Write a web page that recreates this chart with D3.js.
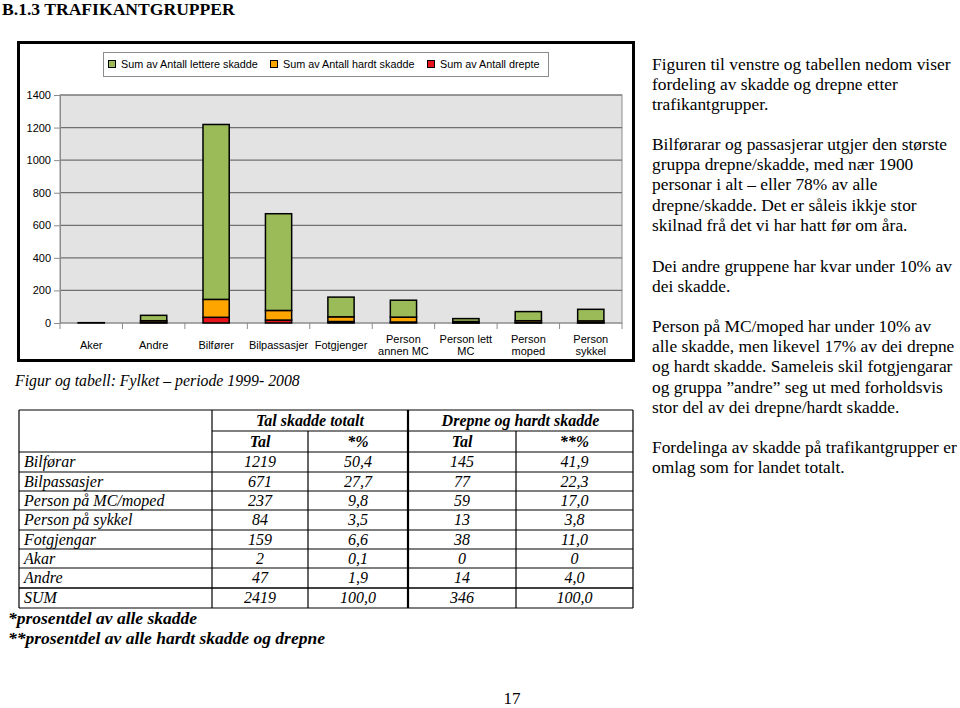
<!DOCTYPE html>
<html><head><meta charset="utf-8">
<script src="https://cdn.jsdelivr.net/npm/d3@7"></script>
<style>body{margin:0;background:#fff}svg{display:block}</style>
</head><body>
<svg id="c" width="960" height="708"></svg>
<script>
// ---- data ----
const categories = ["Aker","Andre","Bilfører","Bilpassasjer","Fotgjenger","Person annen MC","Person lett MC","Person moped","Person sykkel"];
const lettereSkadde = [2, 33, 1074, 594, 121, 104, 18, 56, 71];
const hardtSkadde   = [0, 11, 110, 59, 29, 30, 8, 12, 11];
const drepte        = [0, 3, 35, 18, 9, 6, 1, 2, 2];
const seriesNames = ["Sum av Antall lettere skadde","Sum av Antall hardt skadde","Sum av Antall drepte"];
const yTicks = [0,200,400,600,800,1000,1200,1400];

const tableLabels = ["Bilførar","Bilpassasjer","Person på MC/moped","Person på sykkel","Fotgjengar","Akar","Andre","SUM"];
const talTotalt   = ["1219","671","237","84","159","2","47","2419"];
const pctTotalt   = ["50,4","27,7","9,8","3,5","6,6","0,1","1,9","100,0"];
const talHardt    = ["145","77","59","13","38","0","14","346"];
const pctHardt    = ["41,9","22,3","17,0","3,8","11,0","0","4,0","100,0"];

const paragraphs = [
 ["Figuren til venstre og tabellen nedom viser","fordeling av skadde og drepne etter","trafikantgrupper."],
 ["Bilførarar og passasjerar utgjer den største","gruppa drepne/skadde, med nær 1900","personar i alt – eller 78% av alle","drepne/skadde. Det er såleis ikkje stor","skilnad frå det vi har hatt før om åra."],
 ["Dei andre gruppene har kvar under 10% av","dei skadde."],
 ["Person på MC/moped har under 10% av","alle skadde, men likevel 17% av dei drepne","og hardt skadde. Sameleis skil fotgjengarar","og gruppa ”andre” seg ut med forholdsvis","stor del av dei drepne/hardt skadde."],
 ["Fordelinga av skadde på trafikantgrupper er","omlag som for landet totalt."]
];

const svg = d3.select("#c");
const serif = "'Liberation Serif','Times New Roman',serif";
const sans = "'Liberation Sans',Arial,sans-serif";
const colors = ["#9BBB59","#FFA500","#E8141B"];

// title
svg.append("text").attr("x",2).attr("y",15).attr("font-family",serif).attr("font-weight","bold")
  .attr("font-size",17.6).text("B.1.3 TRAFIKANTGRUPPER");

// chart frame
svg.append("rect").attr("x",18.5).attr("y",42.5).attr("width",615).attr("height",318)
  .attr("fill","#fff").attr("stroke","#000").attr("stroke-width",3);

const x = d3.scaleBand().domain(categories).range([60,622]).paddingInner(0.58).paddingOuter(0.29);
const y = d3.scaleLinear().domain([0,1400]).range([323,95]);

// plot background
svg.append("rect").attr("x",60).attr("y",y(1400)).attr("width",562).attr("height",y(0)-y(1400))
  .attr("fill","#E3E3E3").attr("stroke","#8c8c8c");

// grid
svg.append("g").selectAll("line").data(yTicks.filter(d=>d>0)).join("line")
  .attr("x1",60).attr("x2",622).attr("y1",d=>y(d)).attr("y2",d=>y(d))
  .attr("stroke","#707070").attr("stroke-width",1.2);

// y axis
const yAxis = svg.append("g").attr("transform","translate(60,0)")
  .call(d3.axisLeft(y).tickValues(yTicks).tickFormat(d3.format("d")).tickSize(6).tickPadding(3));
yAxis.select(".domain").attr("stroke","#8c8c8c");
yAxis.selectAll(".tick line").attr("stroke","#8c8c8c");
yAxis.selectAll("text").attr("font-family",sans).attr("font-size",11).attr("fill","#000");

// x axis with ticks between categories
const xg = svg.append("g");
xg.append("line").attr("x1",60).attr("x2",622).attr("y1",y(0)).attr("y2",y(0)).attr("stroke","#8c8c8c");
const step = x.step();
xg.selectAll("line.t").data(d3.range(categories.length+1)).join("line").attr("class","t")
  .attr("x1",i=>60+i*step).attr("x2",i=>60+i*step).attr("y1",y(0)).attr("y2",y(0)+6).attr("stroke","#8c8c8c");
categories.forEach(c=>{
  const cx = x(c)+x.bandwidth()/2;
  let lines;
  if (c.startsWith("Person ")) {
    const rest = c.slice(7);
    if (rest==="lett MC") lines=["Person lett","MC"];
    else lines=["Person",rest];
  } else lines=[c];
  const t = xg.append("text").attr("font-family",sans).attr("font-size",11).attr("text-anchor","middle");
  lines.forEach((l,i)=>{
    t.append("tspan").attr("x",cx).attr("y",(lines.length===1?349:343)+i*12).text(l);
  });
});

// stacked bars
const rows = categories.map((c,i)=>({cat:c, v0:lettereSkadde[i], v1:hardtSkadde[i], v2:drepte[i]}));
const stack = d3.stack().keys(["v2","v1","v0"])(rows);
const colorByKey = {v0:colors[0], v1:colors[1], v2:colors[2]};
svg.append("g").selectAll("g").data(stack).join("g").attr("fill",d=>colorByKey[d.key])
  .selectAll("rect").data(d=>d).join("rect")
  .attr("x",d=>x(d.data.cat)).attr("width",x.bandwidth())
  .attr("y",d=>y(d[1])).attr("height",d=>Math.max(0,y(d[0])-y(d[1])))
  .attr("stroke","#000").attr("stroke-width",1.5);

// legend
const lg = svg.append("g");
lg.append("rect").attr("x",103.5).attr("y",52.5).attr("width",445).attr("height",24)
  .attr("fill","#fff").attr("stroke","#8c8c8c");
const legX = [108,270,427];
seriesNames.forEach((n,i)=>{
  lg.append("rect").attr("x",legX[i]+0.5).attr("y",60.5).attr("width",7).attr("height",7)
    .attr("fill",colors[i]).attr("stroke","#000");
  lg.append("text").attr("x",legX[i]+13).attr("y",68).attr("font-family",sans).attr("font-size",10.8).text(n);
});

// caption
svg.append("text").attr("x",15).attr("y",386).attr("font-family",serif).attr("font-style","italic")
  .attr("font-size",15.8).text("Figur og tabell: Fylket – periode 1999- 2008");

// table
const colX = [19,212,308,408,516,633];
const rowY = [410,431,452,472,491,510,530,549,568,588,608];
const tg = svg.append("g").attr("font-family",serif).attr("font-style","italic").attr("font-size",16);
rowY.forEach((yy,i)=>{
  const x1 = (i===1)?colX[1]:colX[0];
  tg.append("line").attr("x1",x1).attr("x2",colX[5]).attr("y1",yy).attr("y2",yy)
    .attr("stroke","#000").attr("stroke-width",(i===9)?1.6:1.2);
});
colX.forEach((xx,i)=>{
  const y1 = (i===2||i===4)?rowY[1]:rowY[0];
  tg.append("line").attr("x1",xx).attr("x2",xx).attr("y1",y1).attr("y2",rowY[10])
    .attr("stroke","#000").attr("stroke-width",(i===3)?2.2:1.2);
});
tg.append("text").attr("x",(colX[1]+colX[3])/2).attr("y",426).attr("text-anchor","middle")
  .attr("font-weight","bold").text("Tal skadde totalt");
tg.append("text").attr("x",(colX[3]+colX[5])/2).attr("y",426).attr("text-anchor","middle")
  .attr("font-weight","bold").text("Drepne og hardt skadde");
["Tal","*%","Tal","**%"].forEach((h,i)=>{
  tg.append("text").attr("x",(colX[i+1]+colX[i+2])/2).attr("y",447).attr("text-anchor","middle")
    .attr("font-weight","bold").text(h);
});
tableLabels.forEach((lab,r)=>{
  const yy = rowY[r+2]+15;
  tg.append("text").attr("x",24).attr("y",yy).text(lab);
  [talTotalt,pctTotalt,talHardt,pctHardt].forEach((arr,ci)=>{
    tg.append("text").attr("x",(colX[ci+1]+colX[ci+2])/2).attr("y",yy).attr("text-anchor","middle").text(arr[r]);
  });
});
// footnotes
svg.append("text").attr("x",8).attr("y",624).attr("font-family",serif).attr("font-style","italic")
  .attr("font-weight","bold").attr("font-size",17.5).text("*prosentdel av alle skadde");
svg.append("text").attr("x",8).attr("y",644).attr("font-family",serif).attr("font-style","italic")
  .attr("font-weight","bold").attr("font-size",17.5).text("**prosentdel av alle hardt skadde og drepne");

// right text
const paraStart = [70,150,272,332,453];
paragraphs.forEach((p,pi)=>{
  p.forEach((l,li)=>{
    svg.append("text").attr("x",652).attr("y",paraStart[pi]+li*20.2).attr("font-family",serif)
      .attr("font-size",17.4).text(l);
  });
});

// page number
svg.append("text").attr("x",512).attr("y",704).attr("text-anchor","middle").attr("font-family",serif)
  .attr("font-size",17).text("17");
</script>
</body></html>
